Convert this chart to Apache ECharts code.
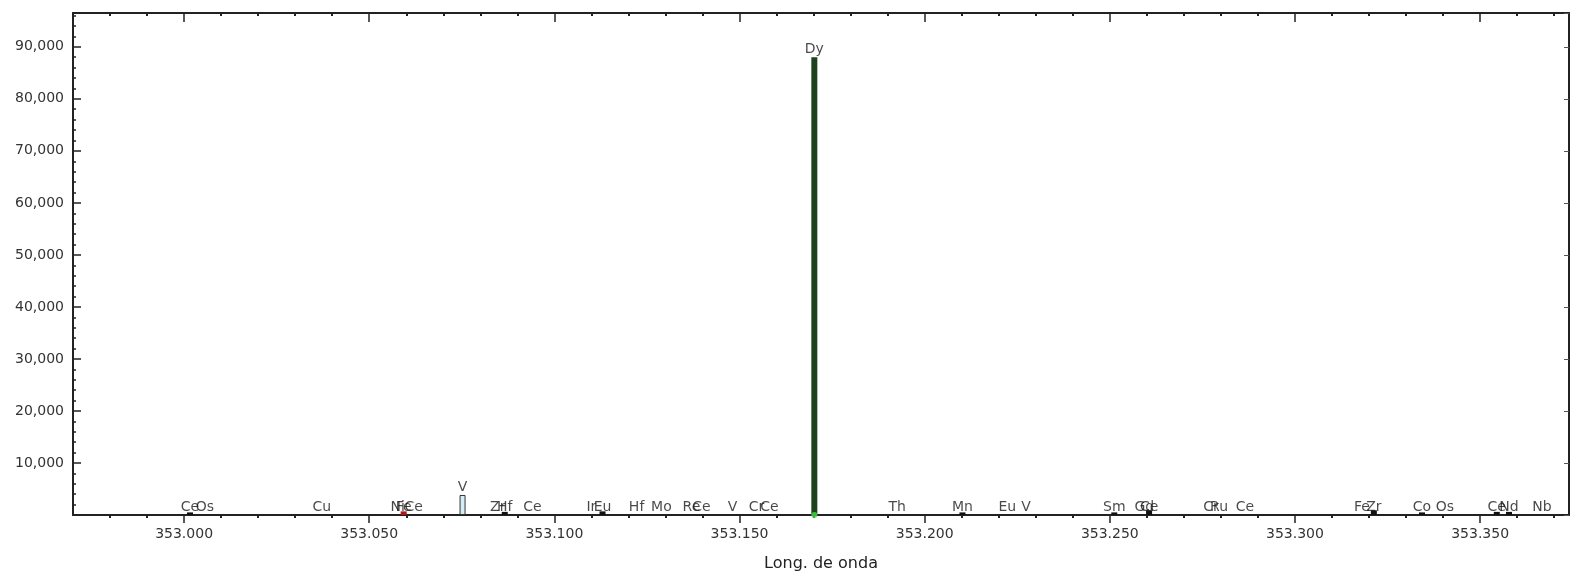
<!DOCTYPE html>
<html><head><meta charset="utf-8">
<script src="https://cdn.jsdelivr.net/npm/echarts@6/dist/echarts.min.js"></script>
<style>html,body{margin:0;padding:0;background:#fff}#c{width:1571px;height:578px}</style>
</head><body><div id="c"></div>
<script>
// Spectral lines: element, wavelength (nm), intensity
const lineNames = ['Ce','Os','Cu','Ni','Fe','Ce','V','Zr','Hf','Ce','Ir','Eu','Hf','Mo','Re','Ce','V','Cr','Ce','Dy','Th','Mn','Eu','V','Sm','Gd','Ce','Cr','Ru','Ce','Fe','Zr','Co','Os','Ce','Nd','Nb'];
const lineWavelengths = [353.0016,353.0056,353.0372,353.0577,353.0593,353.0620,353.0752,353.0847,353.0866,353.0941,353.1100,353.1130,353.1222,353.1289,353.1370,353.1397,353.1481,353.1546,353.1581,353.1702,353.1926,353.2102,353.2223,353.2274,353.2512,353.2593,353.2606,353.2773,353.2795,353.2865,353.3181,353.3213,353.3343,353.3405,353.3545,353.3578,353.3667];
const lineIntensities = [500,0,0,0,700,0,3850,0,600,0,0,700,0,0,0,0,0,0,0,88000,0,500,0,0,500,0,900,0,0,0,0,900,500,0,600,600,0];
const xMajorTicks = [353.000,353.050,353.100,353.150,353.200,353.250,353.300,353.350];
const xMinorTicks = [352.98,352.99,353.01,353.02,353.03,353.04,353.06,353.07,353.08,353.09,353.11,353.12,353.13,353.14,353.16,353.17,353.18,353.19,353.21,353.22,353.23,353.24,353.26,353.27,353.28,353.29,353.31,353.32,353.33,353.34,353.36,353.37];
const yTickValues = [10000,20000,30000,40000,50000,60000,70000,80000,90000];

const X_MIN = 352.97, X_MAX = 353.374, Y_MAX = 96500;
const FONT = 'DejaVu Sans, Verdana, sans-serif';

function barStyle(name, v) {
  if (name === 'Dy') return { color: '#1e421e' };
  if (name === 'V' && v > 2000) return { color: '#d6ecf7', borderColor: '#333', borderWidth: 1 };
  if (name === 'Fe' && v > 0) return { color: '#b0151a' };
  return { color: '#111' };
}

const barData = [];
const labelData = [];
lineNames.forEach((n, i) => {
  const w = lineWavelengths[i], v = lineIntensities[i];
  if (v > 0) barData.push({ value: [w, v], itemStyle: barStyle(n, v) });
  labelData.push({ value: [w, v > 2000 ? v : 0], name: n });
});

const chart = echarts.init(document.getElementById('c'), null, { renderer: 'canvas' });
const axisLine = { show: true, lineStyle: { color: '#222', width: 2 } };
chart.setOption({
  animation: false,
  backgroundColor: '#fff',
  grid: { left: 73, right: 2, top: 13, bottom: 63 },
  xAxis: [
    { type: 'value', position: 'bottom', min: X_MIN, max: X_MAX, axisLine,
      splitLine: { show: false },
      axisTick: { show: true, customValues: xMajorTicks, length: 8, lineStyle: { color: '#222', width: 1.5 } },
      axisLabel: { customValues: xMajorTicks, formatter: v => v.toFixed(3), color: '#333', fontFamily: FONT, fontSize: 14, margin: 12 },
      name: 'Long. de onda', nameLocation: 'middle', nameGap: 41,
      nameTextStyle: { color: '#222', fontFamily: FONT, fontSize: 16 } },
    { type: 'value', position: 'bottom', min: X_MIN, max: X_MAX, axisLine: { show: false },
      splitLine: { show: false },
      axisTick: { show: true, customValues: xMinorTicks, length: 3, lineStyle: { color: '#222', width: 2 } },
      axisLabel: { show: false } },
    { type: 'value', position: 'top', min: X_MIN, max: X_MAX, axisLine,
      splitLine: { show: false },
      axisTick: { show: true, inside: true, customValues: xMajorTicks, length: 9, lineStyle: { color: '#222', width: 1.5 } },
      axisLabel: { show: false } },
    { type: 'value', position: 'top', min: X_MIN, max: X_MAX, axisLine: { show: false },
      splitLine: { show: false },
      axisTick: { show: true, inside: true, customValues: xMinorTicks, length: 3, lineStyle: { color: '#222', width: 2 } },
      axisLabel: { show: false } }
  ],
  yAxis: [
    { type: 'value', position: 'left', min: 0, max: Y_MAX, interval: 10000, axisLine,
      splitLine: { show: false },
      axisTick: { show: true, inside: true, length: 8, lineStyle: { color: '#222', width: 1.5 } },
      minorTick: { show: true, splitNumber: 5, length: 3, lineStyle: { color: '#222', width: 1.5 } },
      axisLabel: { customValues: yTickValues, formatter: v => v.toLocaleString('en-US'), color: '#333', fontFamily: FONT, fontSize: 14, margin: 9 } },
    { type: 'value', position: 'right', min: 0, max: Y_MAX, interval: 10000, axisLine,
      splitLine: { show: false },
      axisTick: { show: true, inside: true, length: 5, lineStyle: { color: '#555', width: 1 } },
      minorTick: { show: false },
      axisLabel: { show: false } }
  ],
  series: [
    { type: 'bar', xAxisIndex: 0, yAxisIndex: 0, barWidth: 6, data: barData, z: 3 },
    { type: 'scatter', xAxisIndex: 0, yAxisIndex: 0, symbolSize: 6, z: 4,
      itemStyle: { color: '#44dd44' },
      data: lineNames.map((n, i) => n === 'Dy' ? [lineWavelengths[i], 0] : null).filter(Boolean) },
    { type: 'scatter', xAxisIndex: 0, yAxisIndex: 0, symbolSize: 0, z: 5,
      data: labelData,
      label: { show: true, position: 'top', distance: 1, formatter: p => p.name,
        color: '#1a1a1a', fontFamily: FONT, fontSize: 14 } }
  ]
});
</script>
</body></html>
